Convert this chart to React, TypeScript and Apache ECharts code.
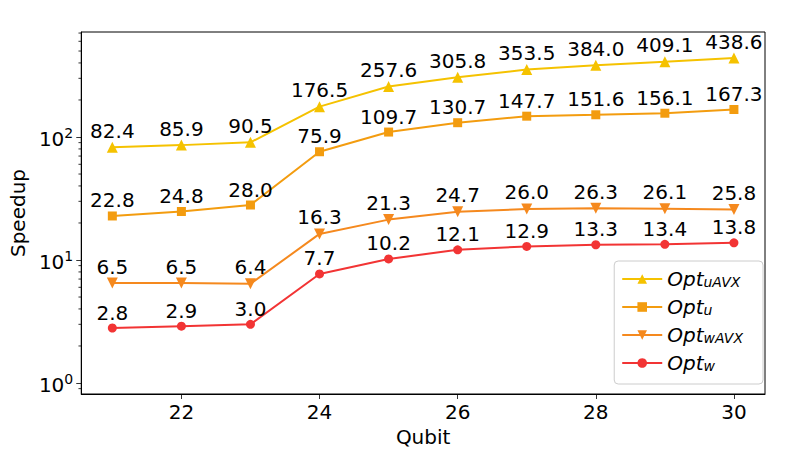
import React, { useEffect, useRef } from 'react';
import * as echarts from 'echarts';

const qubits = [21, 22, 23, 24, 25, 26, 27, 28, 29, 30];
const optUAVX = [82.4, 85.9, 90.5, 176.5, 257.6, 305.8, 353.5, 384.0, 409.1, 438.6];
const optU = [22.8, 24.8, 28.0, 75.9, 109.7, 130.7, 147.7, 151.6, 156.1, 167.3];
const optWAVX = [6.5, 6.5, 6.4, 16.3, 21.3, 24.7, 26.0, 26.3, 26.1, 25.8];
const optW = [2.8, 2.9, 3.0, 7.7, 10.2, 12.1, 12.9, 13.3, 13.4, 13.8];

const seriesNames = ['Opt_uAVX', 'Opt_u', 'Opt_wAVX', 'Opt_w'];
const subscripts = ['uAVX', 'u', 'wAVX', 'w'];
const colors = ['#f5c200', '#f39c0f', '#f5891e', '#f23434'];
const yMinorTicks = [0.9, 2, 3, 4, 5, 6, 7, 8, 9, 20, 30, 40, 50, 60, 70, 80, 90, 200, 300, 400, 500, 600, 700];

const X_MIN = 20.55;
const X_MAX = 30.45;
const Y_MIN = 0.814;
const Y_MAX = 714;

const FONT = 'DejaVu Sans';

export default function App() {
  const ref = useRef<HTMLDivElement>(null);
  useEffect(() => {
    if (!ref.current) return;
    const chart = echarts.init(ref.current, undefined, { renderer: 'svg' });
    const valueSets = [optUAVX, optU, optWAVX, optW];
    const symbols = ['triangle', 'rect', 'triangle', 'circle'];
    const rotates = [0, 0, 180, 0];
    const sizes = [11, 9, 11, 9];
    const lineSeries = seriesNames.map((name, i) => ({
      name,
      type: 'line',
      data: qubits.map((q, j) => [q, valueSets[i][j]]),
      symbol: symbols[i],
      symbolRotate: rotates[i],
      symbolSize: sizes[i],
      showAllSymbol: true,
      lineStyle: { color: colors[i], width: 2 },
      itemStyle: { color: colors[i] },
      z: 5 - i,
      label: {
        show: true,
        position: 'top',
        distance: 1,
        color: '#000',
        fontSize: 20,
        fontFamily: FONT,
        formatter: (p: any) => Number(p.value[1]).toFixed(1),
      },
    }));
    const minorSeries = {
      type: 'custom',
      silent: true,
      clip: false,
      z: 10,
      data: yMinorTicks.map((v) => [X_MIN, v]),
      renderItem: (params: any, api: any) => {
        const p = api.coord([api.value(0), api.value(1)]);
        return {
          type: 'line',
          shape: { x1: p[0] - 2.8, y1: p[1], x2: p[0], y2: p[1] },
          style: { stroke: '#000', lineWidth: 0.8 },
        };
      },
    };
    chart.setOption({
      animation: false,
      backgroundColor: '#fff',
      grid: { left: 80, right: 29, top: 32, bottom: 74, show: true, borderColor: '#000', borderWidth: 1, backgroundColor: 'transparent' },
      legend: {
        data: seriesNames,
        orient: 'vertical',
        right: 31,
        bottom: 84,
        itemWidth: 40,
        itemHeight: 12,
        itemGap: 8,
        padding: [8, 20, 11, 7],
        backgroundColor: 'rgba(255,255,255,0.8)',
        borderColor: '#cccccc',
        borderWidth: 1,
        borderRadius: 4,
        formatter: (name: string) => `{a|Opt}{b|${subscripts[seriesNames.indexOf(name)]}}`,
        textStyle: {
          color: '#000',
          fontFamily: FONT,
          rich: {
            a: { fontSize: 20, fontStyle: 'italic', fontFamily: FONT, color: '#000' },
            b: { fontSize: 14, fontStyle: 'italic', fontFamily: FONT, color: '#000', verticalAlign: 'bottom' },
          },
        },
      },
      xAxis: {
        type: 'value',
        min: X_MIN,
        max: X_MAX,
        name: 'Qubit',
        nameLocation: 'middle',
        nameGap: 32,
        nameTextStyle: { fontSize: 20, fontFamily: FONT, color: '#000' },
        axisLine: { show: true, lineStyle: { color: '#000', width: 1 } },
        axisTick: { show: true, length: 5, lineStyle: { color: '#000', width: 0.8 } },
        axisLabel: {
          margin: 8,
          fontSize: 20,
          fontFamily: FONT,
          color: '#000',
          showMinLabel: false,
          showMaxLabel: false,
          formatter: (v: number) => (Math.abs(v - Math.round(v)) < 1e-9 ? String(Math.round(v)) : ''),
        },
        splitLine: { show: false },
      },
      yAxis: {
        type: 'log',
        logBase: 10,
        min: Y_MIN,
        max: Y_MAX,
        name: 'Speedup',
        nameLocation: 'middle',
        nameGap: 50,
        nameTextStyle: { fontSize: 20, fontFamily: FONT, color: '#000' },
        axisLine: { show: true, lineStyle: { color: '#000', width: 1 } },
        axisTick: { show: true, length: 5, lineStyle: { color: '#000', width: 0.8 } },
        axisLabel: {
          margin: 8,
          color: '#000',
          fontFamily: FONT,
          showMinLabel: false,
          showMaxLabel: false,
          formatter: (v: number) => {
            const e = Math.log10(v);
            if (Math.abs(e - Math.round(e)) > 1e-6) return '';
            return `{a|10}{s|${Math.round(e)}}`;
          },
          rich: {
            a: { fontSize: 20, fontFamily: FONT, color: '#000', padding: [3, 0, 0, 0] },
            s: { fontSize: 14, fontFamily: FONT, color: '#000', verticalAlign: 'top' },
          },
        },
        splitLine: { show: false },
      },
      series: [...lineSeries, minorSeries],
    });
    return () => chart.dispose();
  }, []);
  return <div ref={ref} style={{ position: 'fixed', left: 0, top: 0, width: 794, height: 468 }} />;
}
